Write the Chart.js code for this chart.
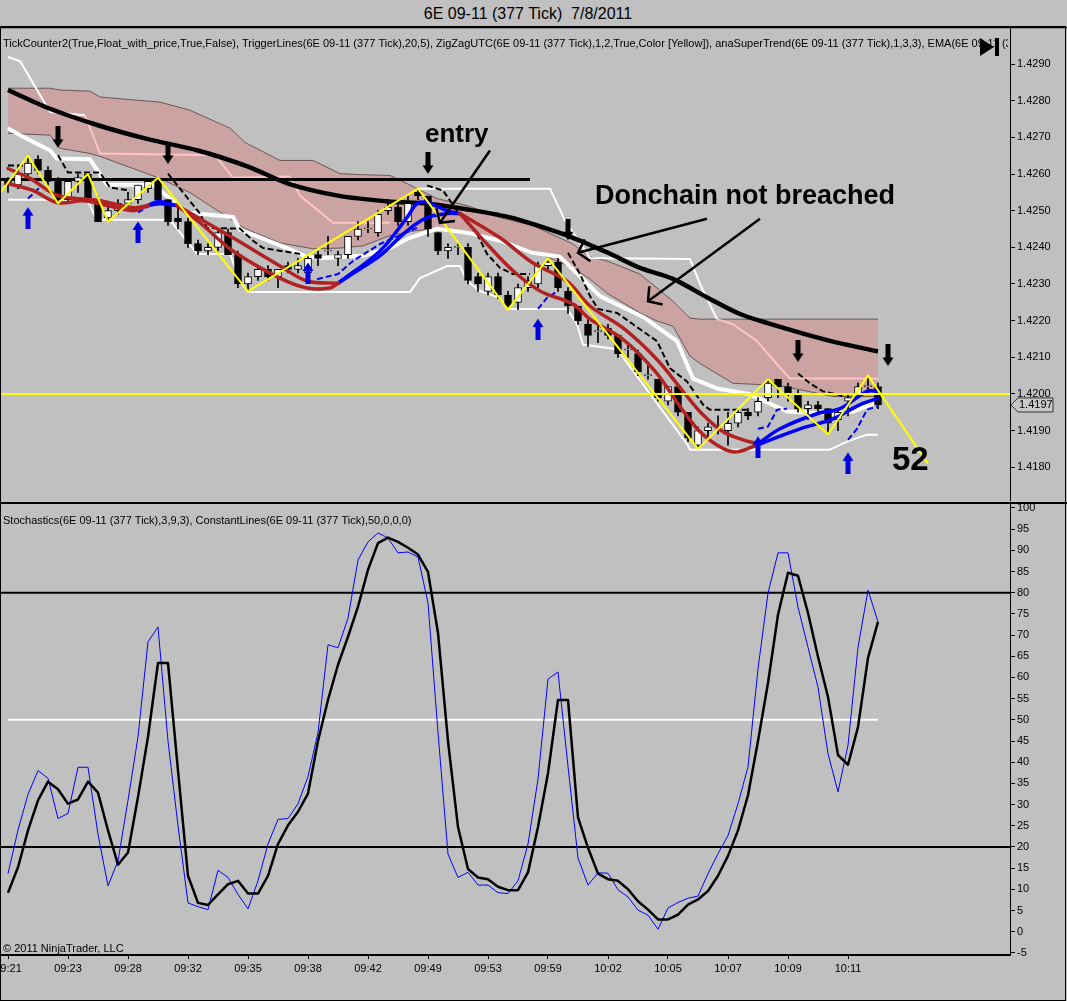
<!DOCTYPE html>
<html><head><meta charset="utf-8">
<script src="https://cdn.jsdelivr.net/npm/chart.js@4.4.0/dist/chart.umd.min.js"></script>
<style>
html,body{margin:0;padding:0;background:#c0c0c0;width:1067px;height:1001px;overflow:hidden;font-family:"Liberation Sans",Arial,sans-serif;}
#title{position:absolute;left:0;top:0;width:1056px;height:26px;text-align:center;font-size:16px;line-height:27px;color:#000;}
canvas{position:absolute;left:0;}
#frame{position:absolute;left:0;top:26px;width:1064px;height:973px;border:1px solid #000;pointer-events:none;}
</style></head>
<body>
<div id="title">6E 09-11 (377 Tick)&nbsp; 7/8/2011</div>
<canvas id="top" width="1067" height="474" style="top:27px"></canvas>
<canvas id="bot" width="1067" height="499" style="top:502px"></canvas>
<div id="frame"></div>
<script>
// ---------- DATA ----------
const times = ['09:21','09:23','09:28','09:32','09:35','09:38','09:42','09:49','09:53','09:59','10:02','10:05','10:07','10:09','10:11'];
const timeTickIdx = [0,6,12,18,24,30,36,42,48,54,60,66,72,78,84];
const priceTicks = [1.4180,1.4190,1.4200,1.4210,1.4220,1.4230,1.4240,1.4250,1.4260,1.4270,1.4280,1.4290];
const stochTicks = [-5,0,5,10,15,20,25,30,35,40,45,50,55,60,65,70,75,80,85,90,95,100];

const open  = [1.4258,1.4257,1.4260,1.4264,1.4261,1.4258,1.4253,1.4258,1.4260,1.4253,1.4248,1.4250,1.4252,1.4253,1.4256,1.4258,1.4253,1.4248,1.4247,1.4241,1.4239,1.4240,1.4244,1.4238,1.4230,1.4232,1.4234,1.4232,1.4235,1.4234,1.4233,1.4238,1.4239,1.4237,1.4238,1.4243,1.4245,1.4244,1.4250,1.4251,1.4247,1.4255,1.4254,1.4244,1.4239,1.4240,1.4240,1.4232,1.4228,1.4232,1.4227,1.4225,1.4229,1.4230,1.4235,1.4236,1.4228,1.4224,1.4219,1.4217,1.4218,1.4216,1.4212,1.4211,1.4205,1.4204,1.4198,1.4202,1.4195,1.4186,1.4190,1.4191,1.4190,1.4192,1.4195,1.4195,1.4199,1.4204,1.4202,1.4200,1.4196,1.4197,1.4196,1.4193,1.4198,1.4200,1.4202,1.4202];
const high  = [1.4259,1.4262,1.4265,1.4265,1.4262,1.4259,1.4258,1.4260,1.4260,1.4254,1.4251,1.4253,1.4255,1.4257,1.4258,1.4259,1.4253,1.4251,1.4248,1.4242,1.4241,1.4245,1.4245,1.4239,1.4233,1.4235,1.4235,1.4234,1.4236,1.4237,1.4238,1.4239,1.4243,1.4239,1.4243,1.4247,1.4247,1.4250,1.4253,1.4252,1.4254,1.4256,1.4254,1.4244,1.4241,1.4241,1.4241,1.4233,1.4233,1.4233,1.4228,1.4230,1.4232,1.4236,1.4237,1.4237,1.4229,1.4224,1.4221,1.4219,1.4219,1.4216,1.4214,1.4212,1.4208,1.4204,1.4202,1.4202,1.4195,1.4191,1.4192,1.4194,1.4195,1.4196,1.4196,1.4199,1.4204,1.4204,1.4203,1.4201,1.4198,1.4198,1.4196,1.4196,1.4200,1.4203,1.4205,1.4203];
const low   = [1.4255,1.4256,1.4259,1.4260,1.4257,1.4252,1.4252,1.4255,1.4253,1.4247,1.4247,1.4249,1.4251,1.4252,1.4255,1.4252,1.4246,1.4245,1.4240,1.4238,1.4238,1.4239,1.4238,1.4229,1.4228,1.4231,1.4231,1.4229,1.4233,1.4233,1.4232,1.4235,1.4238,1.4235,1.4237,1.4242,1.4244,1.4243,1.4249,1.4246,1.4246,1.4253,1.4243,1.4238,1.4237,1.4238,1.4230,1.4228,1.4227,1.4226,1.4223,1.4223,1.4228,1.4229,1.4234,1.4228,1.4222,1.4219,1.4213,1.4214,1.4215,1.4210,1.4210,1.4205,1.4204,1.4198,1.4197,1.4194,1.4187,1.4185,1.4188,1.4189,1.4186,1.4191,1.4193,1.4194,1.4198,1.4199,1.4198,1.4195,1.4193,1.4195,1.4189,1.4190,1.4194,1.4199,1.4201,1.4196];
const close = [1.4257,1.4260,1.4263,1.4261,1.4258,1.4253,1.4258,1.4259,1.4253,1.4247,1.4250,1.4252,1.4253,1.4257,1.4258,1.4253,1.4247,1.4247,1.4241,1.4239,1.4240,1.4244,1.4238,1.4230,1.4232,1.4234,1.4232,1.4234,1.4234,1.4235,1.4237,1.4237,1.4239,1.4238,1.4243,1.4245,1.4245,1.4249,1.4251,1.4247,1.4252,1.4254,1.4245,1.4239,1.4240,1.4240,1.4231,1.4230,1.4232,1.4227,1.4224,1.4229,1.4231,1.4235,1.4236,1.4229,1.4224,1.4220,1.4216,1.4217,1.4216,1.4211,1.4212,1.4206,1.4205,1.4199,1.4202,1.4195,1.4188,1.4190,1.4191,1.4191,1.4192,1.4195,1.4194,1.4198,1.4203,1.4202,1.4200,1.4196,1.4197,1.4196,1.4192,1.4195,1.4199,1.4202,1.4202,1.4197];

// indicator lines: [barIndex, price]
const emaLine = [[0,1.42829],[4,1.42780],[9,1.42733],[14,1.42695],[19,1.42664],[24,1.42620],[28,1.42574],[33,1.42541],[38,1.42525],[42,1.42519],[46,1.42503],[50,1.42483],[53,1.42459],[56.5,1.42426],[60,1.42385],[63.2,1.42344],[66.5,1.42314],[70,1.42262],[73.2,1.42218],[76,1.42193],[82,1.42146],[87,1.42116]];
const bandUpper = [[0,1.42834],[4.2,1.42834],[5.2,1.42829],[8.2,1.42826],[9.2,1.42810],[15.2,1.42796],[18.2,1.42774],[22.2,1.42725],[23.7,1.42686],[27.2,1.42637],[30.5,1.42637],[33.2,1.42601],[35.5,1.42598],[38.2,1.42596],[39.9,1.42574],[42.9,1.42533],[45.9,1.42514],[49.2,1.42481],[52.5,1.42459],[56.5,1.42409],[58.2,1.42374],[59.9,1.42363],[63.2,1.42327],[64.9,1.42289],[66.5,1.42253],[68.2,1.42207],[69.2,1.42204],[72.5,1.42204],[77.2,1.42204],[82.5,1.42204],[87,1.42204]];
const bandLower = [[0,1.42711],[4.2,1.42706],[5.2,1.42670],[8.2,1.42656],[9.2,1.42648],[15.2,1.42588],[18.2,1.42549],[22.2,1.42478],[23.7,1.42451],[27.2,1.42412],[30.5,1.42396],[33.2,1.42398],[35.5,1.42404],[38.2,1.42432],[39.9,1.42442],[42.9,1.42453],[45.9,1.42437],[49.2,1.42421],[52.5,1.42390],[56.5,1.42344],[58.2,1.42313],[59.9,1.42275],[63.2,1.42221],[64.9,1.42199],[66.5,1.42185],[68.2,1.42103],[69.2,1.42083],[72.5,1.42029],[77.2,1.42023],[82.5,1.41993],[87,1.41993]];
const thickWhite = [[0,1.42725],[1.2,1.42706],[4.2,1.42664],[4.9,1.42642],[8.2,1.42640],[9.9,1.42571],[14.5,1.42571],[17.9,1.42495],[22.5,1.42483],[23.2,1.42448],[27.9,1.42398],[29.9,1.42374],[31.5,1.42371],[35.5,1.42377],[38.2,1.42398],[39.9,1.42423],[42.9,1.42451],[45.9,1.42440],[49.2,1.42418],[52.5,1.42385],[55.2,1.42374],[57.5,1.42313],[59.2,1.42267],[63.5,1.42210],[66.9,1.42144],[68.5,1.42042],[70.9,1.42015],[74.2,1.41999],[77.9,1.41952],[82.5,1.41946],[84.5,1.41952],[87,1.41979]];
const upperWhiteA = [[0,1.42919],[1.2,1.42908],[4.2,1.42769],[7.7,1.42760]];
const upperPinkA = [[7.7,1.42760],[9.2,1.42656],[20.7,1.42651],[22.5,1.42590],[28.2,1.42593],[29.2,1.42541],[32.5,1.42467],[38.2,1.42467]];
const upperWhiteB = [[41,1.42560],[54.2,1.42560],[55.7,1.42473],[58.2,1.42371],[68.2,1.42368],[69.2,1.42300],[70.9,1.42204]];
const upperPinkB = [[70.9,1.42204],[72.5,1.42190],[74.9,1.42144],[76.9,1.42081],[78.2,1.42042],[87,1.42042]];
const lowerWhite = [[0,1.42530],[7.9,1.42530],[8.9,1.42475],[16.2,1.42475],[18.9,1.42382],[22.2,1.42382],[23.2,1.42308],[24,1.42278],[40.2,1.42278],[41.2,1.42316],[43.9,1.42349],[45.2,1.42349],[45.9,1.42308],[47.2,1.42281],[49.2,1.42262],[49.9,1.42232],[55.9,1.42232],[56.9,1.42190],[57.5,1.42135],[60.9,1.42122],[67.9,1.41864],[68.2,1.41848],[82.2,1.41848],[83.9,1.41870],[85.9,1.41889],[87,1.41889]];
const dashedBlack = [
  [[0,1.42623],[1.5,1.42623]],
  [[5,1.42651],[6,1.42604],[9.2,1.42604],[10.2,1.42563],[12.2,1.42555]],
  [[16,1.42601],[17.9,1.42536],[19.2,1.42492],[19.9,1.42453],[23.2,1.42451],[24.5,1.42418],[25.5,1.42398],[29.2,1.42382]],
  [[41.9,1.42569],[43.5,1.42555],[44.9,1.42500],[46.9,1.42437],[47.9,1.42382],[49.2,1.42344],[50.5,1.42327],[52.2,1.42327]],
  [[56,1.42385],[57.2,1.42327],[58.2,1.42267],[59,1.42232],[60.9,1.42221],[62.5,1.42190],[64.9,1.42144],[66.2,1.42070],[67.9,1.42034],[69.5,1.41971],[70.2,1.41957],[73.9,1.41957]],
  [[79,1.42056],[80.2,1.42029],[81.5,1.42007],[82.9,1.41999],[83.5,1.41993]]
];
const dashedBlue = [
  [[2,1.42533],[3.4,1.42569]],
  [[13,1.42495],[14.5,1.42519]],
  [[30.9,1.42313],[33,1.42327],[34.5,1.42363],[37.2,1.42409],[40.9,1.42453]],
  [[53,1.42232],[53.9,1.42262],[55,1.42281]],
  [[75,1.41905],[76,1.41911],[76.9,1.41957],[77.9,1.41960]],
  [[84,1.41875],[84.9,1.41905],[85.9,1.41957],[86.9,1.41966]]
];
const maRed = [
  [[0,1.42615],[2.2,1.42588],[4.5,1.42547],[5.9,1.42536],[9.2,1.42527],[12.5,1.42508],[14,1.42514]],
  [[16.9,1.42514],[19.2,1.42478],[22.5,1.42426],[27.2,1.42349],[29.9,1.42308],[33,1.42302]],
  [[45.2,1.42492],[49.2,1.42426],[52.5,1.42357],[55.9,1.42308],[58.2,1.42240],[61.5,1.42180],[64.9,1.42094],[67.5,1.42007],[69.5,1.41943],[71.5,1.41897],[73.5,1.41875],[75,1.41864]],
  [[0,1.42574],[2.5,1.42555],[4.9,1.42522],[7.5,1.42527],[9.2,1.42519],[12.5,1.42500],[14,1.42514]],
  [[16.9,1.42514],[19.2,1.42467],[22.5,1.42390],[27.2,1.42316],[29.9,1.42289],[32.2,1.42289],[33,1.42302]],
  [[45.2,1.42492],[47.9,1.42409],[50.5,1.42336],[53.2,1.42281],[56.5,1.42245],[58.2,1.42204],[61.5,1.42149],[64.7,1.42062],[67.2,1.41966],[69.2,1.41897],[71.5,1.41851],[72.9,1.41842],[75,1.41862]]
];
const maBlue = [
  [[14,1.42514],[15,1.42525],[16.9,1.42514]],
  [[33,1.42302],[37.2,1.42390],[39.9,1.42481],[40.9,1.42519],[41.9,1.42522],[43.9,1.42500],[45.2,1.42492]],
  [[75,1.41864],[77.2,1.41905],[80.9,1.41946],[83.2,1.41960],[85.9,1.42007],[87,1.42007]],
  [[14,1.42514],[15.2,1.42519],[16.9,1.42514]],
  [[33,1.42302],[35.2,1.42341],[37.2,1.42377],[39.9,1.42445],[41.9,1.42481],[43.9,1.42492],[45.2,1.42492]],
  [[75,1.41862],[79.2,1.41905],[82.5,1.41932],[85.2,1.41971],[87,1.41988]]
];
const zigzag = [[-0.8,1.42547],[2,1.4265],[5,1.4252],[8,1.4260],[10,1.4247],[15,1.4259],[24,1.4228],[41,1.4256],[50,1.4223],[54,1.4237],[69,1.4185],[76,1.4204],[82,1.4189],[86,1.4205],[92,1.4181]];
const yellowLevel = 1.4200;
const blackLevel = [[-0.8,1.42585],[52.2,1.42585]];
const downArrows = [[5,1.42700],[16,1.42656],[42,1.42629],[56,1.42448],[79,1.42116],[88,1.42105]];
const upArrows = [[2,1.42481],[13,1.42442],[30,1.42330],[53,1.42177],[75,1.41856],[84,1.41812]];
const annTexts = [
  {text:'entry', x:41.7, y:1.42686, size:26},
  {text:'Donchain not breached', x:58.7, y:1.42519, size:27},
  {text:'52', x:88.4, y:1.41793, size:33}
];
const annArrows = [[48.2,1.42664,43.2,1.42467],[69.9,1.42478,57,1.42385],[75.2,1.42478,64,1.42253]];

const stochK = [13.7,24,32.4,38,36.2,26.7,27.9,38.8,38.8,23,10.8,16.7,31,46,68.4,71.9,45,25,6.8,5.9,5.2,14.5,12.8,8.8,5.4,12,20.7,26.5,26.7,30.2,36.6,47,67.7,67,74,87.7,92,94.1,92.9,89.4,89.6,88.4,77.6,47,18.3,12.8,14,11,11,9.2,9,12,20.7,36,59.6,61.3,39,17.4,11,13.9,13.8,9.9,8.2,5.1,3.9,0.6,5.6,6.9,7.9,8.4,13.7,18.4,22.7,30.2,38.9,62,79.9,89.4,89.4,76.6,67.1,57.7,42,33,44,67.1,80.6,73.1];
const stochD = [9.2,15.2,23.9,31,35.4,33.6,30.2,31.2,35.4,32.8,23.9,15.8,18.7,31.8,46,63.4,63.4,38,13.2,6.8,6.3,8.8,11.2,12,9,9,13.2,20.7,25.1,28.3,32.6,45,54.7,63,69.6,76.7,85.4,91.7,93,92,90.6,89,84.9,70.5,45,24.7,14.8,12.8,12.4,10.6,9.8,9.8,14,24.7,37.4,54.7,54.7,27,19.8,13.7,12.4,12,10,7.2,5.2,2.9,2.9,4,6.4,7.6,9.6,13.2,17.9,23.9,32.2,45,58.7,74.8,84.7,84,75.2,64.9,55.4,41.7,39.4,48.3,64.6,73.1];
const stochLevels = [80,20];
const stochMid = 50;

const topLabel = 'TickCounter2(True,Float_with_price,True,False), TriggerLines(6E 09-11 (377 Tick),20,5), ZigZagUTC(6E 09-11 (377 Tick),1,2,True,Color [Yellow]), anaSuperTrend(6E 09-11 (377 Tick),1,3,3), EMA(6E 09-11 (377 Tick),50)';
const botLabel = 'Stochastics(6E 09-11 (377 Tick),3,9,3), ConstantLines(6E 09-11 (377 Tick),50,0,0,0)';
const copyright = '\u00A9 2011 NinjaTrader, LLC';

// ---------- SETUP ----------
Chart.defaults.font.family = '"Liberation Sans", Arial, sans-serif';
Chart.defaults.font.size = 11;
Chart.defaults.color = '#000';
const X_MIN = -0.8, X_MAX = 100.2;
const FONT = '"Liberation Sans", Arial, sans-serif';

function pts(a){return a.map(p=>({x:p[0],y:p[1]}));}
function line(a,color,width,order,extra){
  return Object.assign({type:'line',data:pts(a),borderColor:color,borderWidth:width,pointRadius:0,fill:false,tension:0,order:order,borderCapStyle:'butt',borderJoinStyle:'round'},extra||{});
}
function arrowCanvas(color, up){
  const c=document.createElement('canvas'); c.width=12; c.height=22;
  const g=c.getContext('2d'); g.fillStyle=color;
  g.beginPath();
  if(!up){g.moveTo(3.5,0);g.lineTo(8.5,0);g.lineTo(8.5,13);g.lineTo(11.5,13);g.lineTo(6,21.5);g.lineTo(0.5,13);g.lineTo(3.5,13);}
  else{g.moveTo(3.5,22);g.lineTo(8.5,22);g.lineTo(8.5,9);g.lineTo(11.5,9);g.lineTo(6,0.5);g.lineTo(0.5,9);g.lineTo(3.5,9);}
  g.closePath(); g.fill(); return c;
}
function noPadX(s){s.paddingLeft=0;s.paddingRight=0;}
function noPadY(s){s.paddingTop=0;s.paddingBottom=0;}
const idx = open.map((_,i)=>i);

const topDatasets = [
  line(bandUpper,'rgba(100,75,75,0.9)',1,100,{fill:'+1',backgroundColor:'rgb(203,163,163)'}),
  line(bandLower,'rgba(100,75,75,0.9)',1,99),
  line(upperPinkA,'rgb(255,196,196)',2,90),
  line(upperPinkB,'rgb(255,196,196)',2,90),
  line(upperWhiteA,'#ffffff',2,90),
  line(upperWhiteB,'#ffffff',2,90),
  line(lowerWhite,'#ffffff',2,90),
  line(thickWhite,'#ffffff',4,89),
  line(blackLevel,'#000000',3,80),
  line(emaLine,'#000000',4.5,79,{tension:0.3}),
  {type:'bar',data:idx.map(i=>({x:i,y:[low[i],high[i]]})),backgroundColor:'#000',barThickness:1,grouped:false,order:70},
  {type:'bar',data:idx.map(i=>({x:i,y:[open[i],close[i]]})),backgroundColor:idx.map(i=>close[i]>=open[i]?'#ffffff':'#000000'),borderColor:'#000',borderWidth:1,borderSkipped:false,minBarLength:1,barThickness:7,grouped:false,order:69}
];
dashedBlack.forEach(s=>topDatasets.push(line(s,'#000000',2,60,{borderDash:[6,3]})));
dashedBlue.forEach(s=>topDatasets.push(line(s,'#0000ff',2,60,{borderDash:[6,3]})));
maRed.forEach(s=>topDatasets.push(line(s,'rgb(178,34,34)',3.5,50,{tension:0.35,borderCapStyle:'round'})));
maBlue.forEach(s=>topDatasets.push(line(s,'rgb(0,0,255)',3.5,50,{tension:0.35,borderCapStyle:'round'})));
topDatasets.push(line(zigzag,'#ffff00',2,40));
topDatasets.push(line([[X_MIN,yellowLevel],[X_MAX,yellowLevel]],'#ffff00',2,39));
topDatasets.push({type:'line',data:pts(downArrows),showLine:false,pointStyle:arrowCanvas('#000',false),pointRadius:5,order:10});
topDatasets.push({type:'line',data:pts(upArrows),showLine:false,pointStyle:arrowCanvas('#0000dd',true),pointRadius:5,order:10});

function arrowHead(ctx,x0,y0,x1,y1,len,ang){
  const a=Math.atan2(y0-y1,x0-x1);
  ctx.beginPath();
  ctx.moveTo(x1+len*Math.cos(a+ang),y1+len*Math.sin(a+ang));
  ctx.lineTo(x1,y1);
  ctx.lineTo(x1+len*Math.cos(a-ang),y1+len*Math.sin(a-ang));
  ctx.stroke();
}

const topDecor = {
  id:'topDecor',
  afterDraw(chart){
    const {ctx,chartArea:a,scales:{x,y}} = chart;
    ctx.save();
    ctx.strokeStyle='#000'; ctx.lineWidth=2.5; ctx.lineCap='butt';
    annArrows.forEach(r=>{
      const X0=x.getPixelForValue(r[0]),Y0=y.getPixelForValue(r[1]),X1=x.getPixelForValue(r[2]),Y1=y.getPixelForValue(r[3]);
      ctx.beginPath();ctx.moveTo(X0,Y0);ctx.lineTo(X1,Y1);ctx.stroke();
      arrowHead(ctx,X0,Y0,X1,Y1,15,0.85);
    });
    ctx.fillStyle='#000'; ctx.textBaseline='alphabetic'; ctx.textAlign='left';
    annTexts.forEach(t=>{ctx.font='bold '+t.size+'px '+FONT; ctx.fillText(t.text,x.getPixelForValue(t.x),y.getPixelForValue(t.y));});
    ctx.save(); ctx.beginPath(); ctx.rect(0,0,a.right-2,a.bottom); ctx.clip();
    ctx.font='11px '+FONT; ctx.textBaseline='middle'; ctx.fillStyle='#000';
    ctx.fillText(topLabel,3,17);
    ctx.restore();
    ctx.fillStyle='#000';
    ctx.beginPath(); ctx.moveTo(a.right-30,11); ctx.lineTo(a.right-30,29); ctx.lineTo(a.right-16,20); ctx.closePath(); ctx.fill();
    ctx.fillRect(a.right-15,11,4,18);
    const py=y.getPixelForValue(close[close.length-1]);
    ctx.beginPath();
    ctx.moveTo(a.right+1,py);ctx.lineTo(a.right+8,py-7);ctx.lineTo(a.right+43,py-7);ctx.lineTo(a.right+43,py+7);ctx.lineTo(a.right+8,py+7);ctx.closePath();
    ctx.fillStyle='#c8c8c8'; ctx.fill(); ctx.strokeStyle='#333'; ctx.lineWidth=1; ctx.stroke();
    ctx.fillStyle='#000'; ctx.font='11px '+FONT; ctx.textBaseline='middle';
    ctx.fillText(close[close.length-1].toFixed(4),a.right+9,py+0.5);
    ctx.strokeStyle='#000'; ctx.lineWidth=1.5;
    ctx.beginPath(); ctx.moveTo(0,0.5); ctx.lineTo(chart.width,0.5); ctx.stroke();
    ctx.restore();
  }
};

new Chart(document.getElementById('top'),{
  type:'line',
  data:{datasets:topDatasets},
  options:{
    responsive:false, animation:false, events:[],
    layout:{padding:0,autoPadding:false},
    plugins:{legend:{display:false},tooltip:{enabled:false}},
    scales:{
      x:{type:'linear',min:X_MIN,max:X_MAX,display:false,offset:false,grid:{offset:false},afterFit:noPadX},
      y:{type:'linear',position:'right',min:1.41708,max:1.43001,beginAtZero:false,
        afterFit(s){s.width=57;noPadY(s);},
        afterBuildTicks(s){s.ticks=priceTicks.map(v=>({value:v}));},
        ticks:{callback:v=>Number(v).toFixed(4),color:'#000',font:{size:11},padding:2},
        grid:{drawOnChartArea:false,tickLength:5,tickColor:'#000'},
        border:{display:true,color:'#000',width:1}}
    }
  },
  plugins:[topDecor]
});

// ---------- STOCHASTICS ----------
const botDatasets = [
  line([[X_MIN,stochLevels[0]],[X_MAX,stochLevels[0]]],'#000',2,30),
  line([[X_MIN,stochLevels[1]],[X_MAX,stochLevels[1]]],'#000',2,30),
  line([[0,stochMid],[idx.length-1,stochMid]],'#ffffff',2,30),
  line(idx.map(i=>[i,stochK[i]]),'#0000ff',1,20),
  line(idx.map(i=>[i,stochD[i]]),'#000000',2.5,10)
];
const botDecor = {
  id:'botDecor',
  afterDraw(chart){
    const {ctx,chartArea:a} = chart;
    ctx.save();
    ctx.fillStyle='#000'; ctx.font='11px '+FONT; ctx.textBaseline='middle';
    ctx.fillText(botLabel,3,19);
    ctx.fillText(copyright,3,a.bottom-6);
    ctx.strokeStyle='#000'; ctx.lineWidth=2;
    ctx.beginPath(); ctx.moveTo(0,1); ctx.lineTo(chart.width,1); ctx.stroke();
    ctx.restore();
  }
};
new Chart(document.getElementById('bot'),{
  type:'line',
  data:{datasets:botDatasets},
  options:{
    responsive:false, animation:false, events:[],
    layout:{padding:0,autoPadding:false},
    plugins:{legend:{display:false},tooltip:{enabled:false}},
    scales:{
      x:{type:'linear',min:X_MIN,max:X_MAX,position:'bottom',offset:false,
        afterFit(s){s.height=46;noPadX(s);},
        afterBuildTicks(s){s.ticks=timeTickIdx.map(v=>({value:v}));},
        ticks:{autoSkip:false,maxRotation:0,callback:(v,i)=>times[i],color:'#000',font:{size:11}},
        grid:{drawOnChartArea:false,tickLength:4,tickColor:'#000'},
        border:{display:true,color:'#000',width:2}},
      y:{type:'linear',position:'right',min:-5.5,max:101.4,
        afterFit(s){s.width=57;noPadY(s);},
        afterBuildTicks(s){s.ticks=stochTicks.map(v=>({value:v}));},
        ticks:{callback:v=>String(v),color:'#000',font:{size:11},padding:2},
        grid:{drawOnChartArea:false,tickLength:5,tickColor:'#000'},
        border:{display:true,color:'#000',width:1}}
    }
  },
  plugins:[botDecor]
});
</script>
</body></html>
